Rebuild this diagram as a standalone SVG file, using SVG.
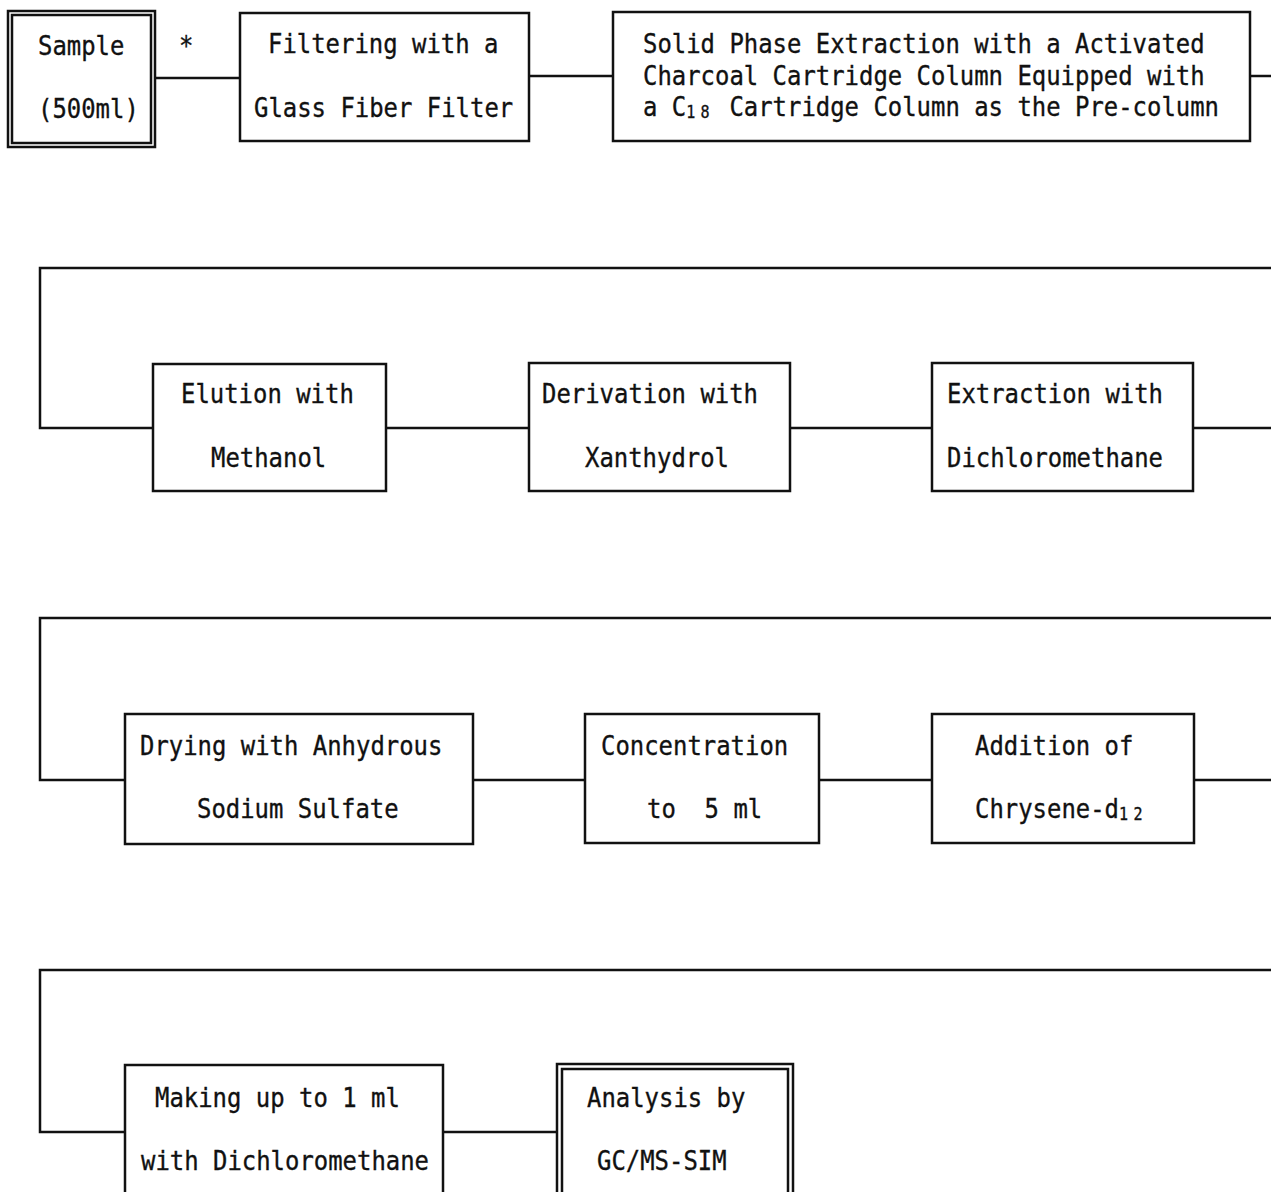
<svg xmlns="http://www.w3.org/2000/svg" width="1271" height="1192" viewBox="0 0 1271 1192">
<style>
.b{fill:#fff;stroke:#111;stroke-width:2.5}
.c{fill:none;stroke:#111;stroke-width:2.5}
text{font-family:"DejaVu Sans Mono","Liberation Mono",monospace;font-size:27px;fill:#111;stroke:#111;stroke-width:0.35}
.s{font-size:17px;letter-spacing:6px}
</style>
<rect width="1271" height="1192" fill="#fff"/>
<g id="connectors" class="c">
<path d="M155 78H240"/>
<path d="M529 76H613"/>
<path d="M1250 76H1271"/>
<path d="M1271 268H40V428H153"/>
<path d="M386 428H529"/>
<path d="M790 428H932"/>
<path d="M1193 428H1271"/>
<path d="M1271 618H40V780H125"/>
<path d="M473 780H585"/>
<path d="M819 780H932"/>
<path d="M1194 780H1271"/>
<path d="M1271 970H40V1132H125"/>
<path d="M443 1132H557"/>
</g>
<g id="sample">
<rect class="b" x="8" y="11" width="147" height="136"/>
<rect class="c" x="12" y="15" width="139" height="128" stroke-width="1.5"/>
<text transform="translate(38 55) scale(.8862 1)">Sample</text>
<text transform="translate(38 118) scale(.8862 1)">(500ml)</text>
</g>
<text id="asterisk" transform="translate(179 55) scale(.8862 1)">*</text>
<g id="filter">
<rect class="b" x="240" y="13" width="289" height="128"/>
<text transform="translate(268 53) scale(.8862 1)">Filtering with a</text>
<text transform="translate(254 117) scale(.8862 1)">Glass Fiber Filter</text>
</g>
<g id="spe">
<rect class="b" x="613" y="12" width="637" height="129"/>
<text transform="translate(643 53) scale(.8862 1)">Solid Phase Extraction with a Activated</text>
<text transform="translate(643 85) scale(.8862 1)">Charcoal Cartridge Column Equipped with</text>
<text transform="translate(643 116) scale(.8862 1)">a C<tspan class="s" dy="2">18</tspan><tspan dy="-2" x="97.5">Cartridge Column as the Pre-column</tspan></text>
</g>
<g id="elution">
<rect class="b" x="153" y="364" width="233" height="127"/>
<text transform="translate(181 403) scale(.8862 1)">Elution with</text>
<text transform="translate(211 467) scale(.8862 1)">Methanol</text>
</g>
<g id="derivation">
<rect class="b" x="529" y="363" width="261" height="128"/>
<text transform="translate(542 403) scale(.8862 1)">Derivation with</text>
<text transform="translate(585 467) scale(.8862 1)">Xanthydrol</text>
</g>
<g id="extraction">
<rect class="b" x="932" y="363" width="261" height="128"/>
<text transform="translate(947 403) scale(.8862 1)">Extraction with</text>
<text transform="translate(947 467) scale(.8862 1)">Dichloromethane</text>
</g>
<g id="drying">
<rect class="b" x="125" y="714" width="348" height="130"/>
<text transform="translate(140 755) scale(.8862 1)">Drying with Anhydrous</text>
<text transform="translate(197 818) scale(.8862 1)">Sodium Sulfate</text>
</g>
<g id="concentration">
<rect class="b" x="585" y="714" width="234" height="129"/>
<text transform="translate(601 755) scale(.8862 1)">Concentration</text>
<text transform="translate(647 818) scale(.8862 1)">to<tspan x="65">5 ml</tspan></text>
</g>
<g id="addition">
<rect class="b" x="932" y="714" width="262" height="129"/>
<text transform="translate(975 755) scale(.8862 1)">Addition of</text>
<text transform="translate(975 818) scale(.8862 1)">Chrysene-d<tspan class="s" dy="2">12</tspan></text>
</g>
<g id="makingup">
<rect class="b" x="125" y="1065" width="318" height="135"/>
<text transform="translate(155 1107) scale(.8862 1)">Making up to 1 ml</text>
<text transform="translate(141 1170) scale(.8862 1)">with Dichloromethane</text>
</g>
<g id="analysis">
<rect class="b" x="557" y="1064" width="236" height="136"/>
<rect class="c" x="562" y="1069" width="226" height="130" stroke-width="1.5"/>
<text transform="translate(587 1107) scale(.8862 1)">Analysis by</text>
<text transform="translate(597 1170) scale(.8862 1)">GC/MS-SIM</text>
</g>
</svg>
